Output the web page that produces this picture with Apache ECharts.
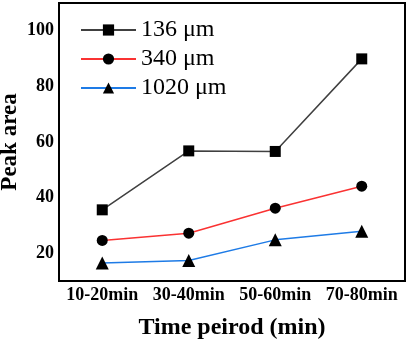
<!DOCTYPE html>
<html><head><meta charset="utf-8">
<script src="https://cdn.jsdelivr.net/npm/echarts@6/dist/echarts.min.js"></script>
<style>html,body{margin:0;padding:0;background:#fff}#c{width:408px;height:342px}</style>
</head><body><div id="c"></div>
<script>
const categories = ['10-20min', '30-40min', '50-60min', '70-80min'];
const seriesNames = ['136 μm', '340 μm', '1020 μm'];
const s136 = [35.6, 56.8, 56.6, 89.9];
const s340 = [24.6, 27.2, 36.2, 44.1];
const s1020 = [16.5, 17.4, 24.8, 27.9];
const yMajorTicks = [20, 40, 60, 80, 100];
const yMinorTicks = [30, 50, 70, 90];

const serif = '"Liberation Serif", "Times New Roman", serif';
const chart = echarts.init(document.getElementById('c'));
const mk = (name, data, color, symbol, size) => ({
  name, type: 'line', data, xAxisIndex: 0, yAxisIndex: 0,
  symbol, symbolSize: size, showSymbol: true,
  lineStyle: { color, width: 1.5 },
  itemStyle: { color: '#000' },
  emphasis: { disabled: true }, animation: false
});
chart.setOption({
  animation: false,
  grid: { left: 59, right: 3, top: 3, bottom: 61, outerBoundsMode: 'none', containLabel: false, show: true, borderColor: '#000', borderWidth: 2, backgroundColor: 'transparent' },
  legend: {
    orient: 'vertical', left: 80, top: 18, padding: 0, itemWidth: 55, itemHeight: 14, itemGap: 5,
    textStyle: { fontFamily: serif, fontSize: 24, color: '#000', lineHeight: 24, padding: [0,0,0,0] },
    data: seriesNames
  },
  xAxis: [{
    type: 'category', data: categories, boundaryGap: true,
    axisLine: { lineStyle: { color: '#000', width: 2 } },
    axisTick: { inside: true, alignWithLabel: true, length: 5, lineStyle: { color: '#000', width: 1.5 } },
    axisLabel: { interval: 0, fontFamily: serif, fontWeight: 'bold', fontSize: 18, color: '#000', margin: 5 },
    name: 'Time peirod (min)', nameLocation: 'middle', nameGap: 35, nameMoveOverlap: false,
    nameTextStyle: { fontFamily: serif, fontWeight: 'bold', fontSize: 24, color: '#000' }
  }, {
    type: 'category', data: categories, boundaryGap: true, position: 'bottom',
    axisLine: { show: false },
    axisTick: { inside: true, interval: 0, length: 3, lineStyle: { color: '#000', width: 1.5 } },
    axisLabel: { show: false }
  }],
  yAxis: [{
    type: 'value', min: 10, max: 110,
    splitLine: { show: false },
    axisLine: { show: true, lineStyle: { color: '#000', width: 2 } },
    axisTick: { inside: true, length: 5, customValues: yMajorTicks, lineStyle: { color: '#000', width: 1.5 } },
    axisLabel: { customValues: yMajorTicks, fontFamily: serif, fontWeight: 'bold', fontSize: 18, color: '#000', margin: 5 },
    name: 'Peak area', nameLocation: 'middle', nameGap: 37, nameMoveOverlap: false,
    nameTextStyle: { fontFamily: serif, fontWeight: 'bold', fontSize: 23, color: '#000' }
  }, {
    type: 'value', min: 10, max: 110, position: 'left',
    splitLine: { show: false },
    axisLine: { show: false },
    axisTick: { inside: true, length: 3, customValues: yMinorTicks, lineStyle: { color: '#000', width: 1.5 } },
    axisLabel: { show: false }
  }],
  series: [
    mk(seriesNames[0], s136, '#404040', 'rect', 11),
    mk(seriesNames[1], s340, '#fa3232', 'circle', 11),
    mk(seriesNames[2], s1020, '#1e7be6', 'triangle', 13)
  ]
});
</script></body></html>
